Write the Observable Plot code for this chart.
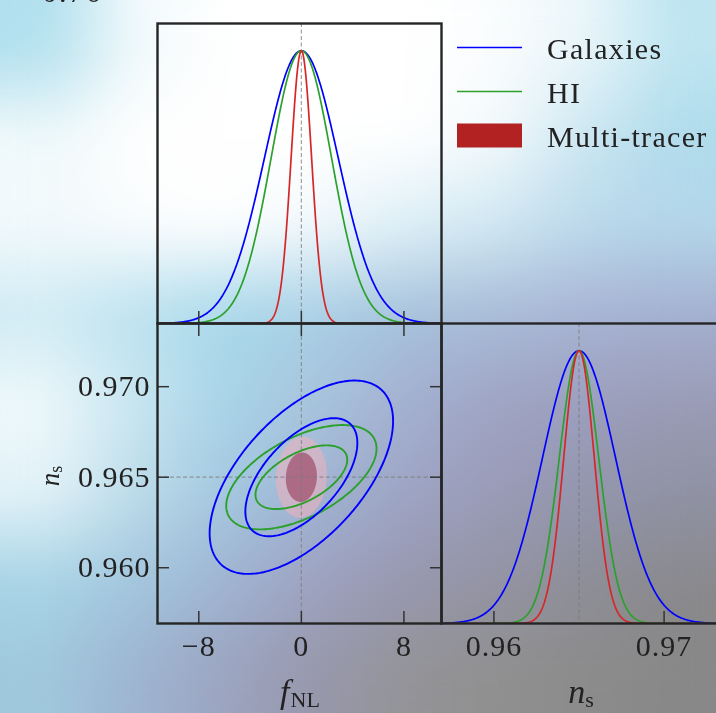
<!DOCTYPE html>
<html>
<head>
<meta charset="utf-8">
<script src="https://cdn.jsdelivr.net/npm/d3@7"></script>
<script src="https://cdn.jsdelivr.net/npm/@observablehq/plot@0.6"></script>
<style>
  html, body { margin: 0; padding: 0; background: #fff; }
  #wrap { position: relative; width: 716px; height: 713px; overflow: hidden; font-family: "Liberation Serif", serif; color: #222; }
  #wrap > * { position: absolute; left: 0; top: 0; }
</style>
</head>
<body>
<div id="wrap"></div>
<script>
// ---------------- data ----------------
const tracers = ["Galaxies", "HI", "Multi-tracer"];
const lineColors = ["#0000ff", "#2ca02c", "#d62728"];
const legendKinds = ["line", "line", "patch"];
const patchColor = "#b22222";
const fiducialFNL = 0;
const fiducialNs = 0.965;
const sigmaFNL = [2.88, 2.36, 0.80];          // 1-sigma marginal errors on f_NL
const sigmaNs = [2.15e-3, 1.16e-3, 0.90e-3];  // 1-sigma marginal errors on n_s
const corr = [0.58, 0.55, 0.05];              // f_NL – n_s correlation
const contourLevels = [2.30, 6.17];           // Δχ² for 68% / 95% regions
const fTicks = [-8, 0, 8];
const fTickLabels = ["−8", "0", "8"];
const nsTicksLeft = [0.960, 0.965, 0.970];
const nsTickLabelsLeft = ["0.960", "0.965", "0.970"];
const nsTicksBottom = [0.96, 0.97];
const nsTickLabelsBottom = ["0.96", "0.97"];
const fDomain = [-11.22, 10.93];
const nsDomain = [0.95692, 0.97349];

// ---------------- derived tables ----------------
const N = 400;
const margF = tracers.flatMap((t, i) => d3.range(N + 1).map(k => {
  const x = fDomain[0] + (fDomain[1] - fDomain[0]) * k / N;
  return {tracer: t, x, p: Math.exp(-0.5 * ((x - fiducialFNL) / sigmaFNL[i]) ** 2)};
}));
const margNs = tracers.flatMap((t, i) => d3.range(N + 1).map(k => {
  const x = nsDomain[0] + (nsDomain[1] - nsDomain[0]) * k / N;
  return {tracer: t, x, p: Math.exp(-0.5 * ((x - fiducialNs) / sigmaNs[i]) ** 2)};
}));
const contours = tracers.flatMap((t, i) => contourLevels.flatMap((lv, li) => {
  const k = Math.sqrt(lv);
  return d3.range(241).map(a => {
    const th = 2 * Math.PI * a / 240;
    return {
      tracer: t, level: li,
      x: fiducialFNL + k * sigmaFNL[i] * Math.cos(th),
      y: fiducialNs + k * sigmaNs[i] * (corr[i] * Math.cos(th) + Math.sqrt(1 - corr[i] ** 2) * Math.sin(th))
    };
  });
}));

// ---------------- layout ----------------
const W = 716, H = 713;
const frameL = 157, frameM = 441, frameR = 723, frameT = 23, frameMid = 323, frameB = 623;
const wrap = document.getElementById("wrap");

// soft background picture behind the transparent panels
const bgGrid = [
  ["#b2e0ee", "#f2fafc", "#ffffff", "#ffffff", "#ffffff", "#fbfdfe", "#eaf6fa", "#bfe5f1"],
  ["#f0f9fb", "#ffffff", "#ffffff", "#ffffff", "#ffffff", "#f4fafc", "#cce7f2", "#b0dcec"],
  ["#f2f9fc", "#fafdfe", "#ffffff", "#f2f9fc", "#ddf0f7", "#d0e8f3", "#bcdaec", "#b4d6ea"],
  ["#d0ebf4", "#bce2ef", "#a8d8ea", "#a8d0e6", "#a6c2dc", "#a8bcd8", "#a8b4d4", "#a4b0d0"],
  ["#eef8fb", "#c8e6f1", "#a8d4e8", "#a8c4dc", "#a4b0d0", "#a0a4c4", "#9c9fbe", "#9a9cb6"],
  ["#e2f2f8", "#bcdcea", "#a4c8e0", "#a0b4d4", "#9ea4c4", "#9a9cb8", "#9496ae", "#9092a4"],
  ["#a8d4e6", "#a2c6de", "#a0b4d2", "#9ea2c0", "#9898b0", "#9494a4", "#8e8e98", "#8a8a8e"],
  ["#a0c8dc", "#9eb4d0", "#9ca4c0", "#9898ac", "#949498", "#909090", "#8c8c8c", "#888888"]
];
const small = document.createElement("canvas");
small.width = bgGrid[0].length; small.height = bgGrid.length;
const sctx = small.getContext("2d");
bgGrid.forEach((row, j) => row.forEach((c, i) => { sctx.fillStyle = c; sctx.fillRect(i, j, 1, 1); }));
const tmp = document.createElement("canvas");
tmp.width = W; tmp.height = H;
const tctx = tmp.getContext("2d");
tctx.imageSmoothingEnabled = true;
tctx.drawImage(small, 0, 0, W, H);
const bg = document.createElement("canvas");
bg.width = W; bg.height = H;
const bctx = bg.getContext("2d");
bctx.drawImage(tmp, 0, 0);
bctx.filter = "blur(22px)";
bctx.drawImage(tmp, 0, 0);
bctx.filter = "none";
wrap.appendChild(bg);

const baseStyle = {background: "transparent", overflow: "visible", maxWidth: "none",
  fontFamily: "Liberation Serif, serif", fontSize: "30px", color: "#222", letterSpacing: "1px"};
const color = {domain: tracers, range: lineColors};
const dash = {stroke: "#7a7a7a", strokeOpacity: 0.7, strokeWidth: 1.2, strokeDasharray: "4,2.5"};
const tickStyle = {stroke: "#333", strokeWidth: 1.5, tickFormat: () => "", label: null};
const frameStyle = {stroke: "#252525", strokeWidth: 2.4};

// Top panel: f_NL marginal
const plotA = Plot.plot({
  width: W, height: H,
  marginLeft: frameL, marginRight: W - frameM, marginTop: frameT, marginBottom: H - frameMid,
  x: {domain: fDomain, label: null},
  y: {domain: [0, 1.1], axis: null},
  color,
  style: baseStyle,
  marks: [
    Plot.ruleX([fiducialFNL], dash),
    Plot.line(margF, {x: "x", y: "p", z: "tracer", stroke: "tracer", strokeWidth: 1.7, clip: true}),
    Plot.axisX(fTicks, {anchor: "bottom", tickSize: -12, ...tickStyle}),
    Plot.frame(frameStyle)
  ]
});

// Bottom-left panel: 2D contours
const plotB = Plot.plot({
  width: W, height: H,
  marginLeft: frameL, marginRight: W - frameM, marginTop: frameMid, marginBottom: H - frameB,
  x: {domain: fDomain, label: null},
  y: {domain: nsDomain, label: null},
  color,
  style: baseStyle,
  marks: [
    Plot.line(contours.filter(d => d.tracer === tracers[2] && d.level === 1),
      {x: "x", y: "y", fill: "#f2b0bc", fillOpacity: 0.55, stroke: "none"}),
    Plot.line(contours.filter(d => d.tracer === tracers[2] && d.level === 0),
      {x: "x", y: "y", fill: "#8c2244", fillOpacity: 0.5, stroke: "none"}),
    Plot.ruleX([fiducialFNL], dash),
    Plot.ruleY([fiducialNs], dash),
    Plot.line(contours.filter(d => d.tracer === tracers[1]),
      {x: "x", y: "y", z: "level", stroke: lineColors[1], strokeWidth: 1.9}),
    Plot.line(contours.filter(d => d.tracer === tracers[0]),
      {x: "x", y: "y", z: "level", stroke: lineColors[0], strokeWidth: 1.9}),
    Plot.axisX(fTicks, {anchor: "bottom", tickSize: -12, ...tickStyle}),
    Plot.axisX(fTicks, {anchor: "bottom", tickSize: 0, tickPadding: 11, label: null, fill: "#222",
      tickFormat: d => fTickLabels[fTicks.indexOf(d)]}),
    Plot.axisX(fTicks, {anchor: "top", tickSize: -12, ...tickStyle}),
    Plot.axisY(nsTicksLeft, {anchor: "left", tickSize: -12, ...tickStyle}),
    Plot.axisY(nsTicksLeft, {anchor: "left", tickSize: 0, tickPadding: 7, label: null, fill: "#222",
      tickFormat: d => nsTickLabelsLeft[nsTicksLeft.indexOf(d)]}),
    Plot.axisY(nsTicksLeft, {anchor: "right", tickSize: -12, ...tickStyle}),
    Plot.frame(frameStyle)
  ]
});

// Bottom-right panel: n_s marginal
const plotC = Plot.plot({
  width: frameR + 7, height: H,
  marginLeft: frameM, marginRight: 7, marginTop: frameMid, marginBottom: H - frameB,
  x: {domain: nsDomain, label: null},
  y: {domain: [0, 1.1], axis: null},
  color,
  style: baseStyle,
  marks: [
    Plot.ruleX([fiducialNs], dash),
    Plot.line(margNs, {x: "x", y: "p", z: "tracer", stroke: "tracer", strokeWidth: 1.7, clip: true}),
    Plot.axisX(nsTicksBottom, {anchor: "bottom", tickSize: -12, ...tickStyle}),
    Plot.axisX(nsTicksBottom, {anchor: "bottom", tickSize: 0, tickPadding: 11, label: null, fill: "#222",
      tickFormat: d => nsTickLabelsBottom[nsTicksBottom.indexOf(d)]}),
    Plot.frame(frameStyle)
  ]
});

wrap.appendChild(plotA);
wrap.appendChild(plotB);
wrap.appendChild(plotC);

// ---------------- axis titles, legend ----------------
const ov = d3.select(wrap).append("svg")
  .attr("width", W).attr("height", H)
  .style("font-family", "Liberation Serif, serif").style("fill", "#222");

// partially visible text from above the figure
ov.append("text").attr("x", 42).attr("y", 2).attr("font-size", 30).attr("letter-spacing", 2).text("0.76");

const fl = ov.append("text").attr("x", 300).attr("y", 703).attr("text-anchor", "middle").attr("font-size", 34);
fl.append("tspan").attr("font-style", "italic").text("f");
fl.append("tspan").attr("font-size", 22).attr("dy", 4).attr("dx", 1).text("NL");

const nb = ov.append("text").attr("x", 581).attr("y", 703).attr("text-anchor", "middle").attr("font-size", 34);
nb.append("tspan").attr("font-style", "italic").text("n");
nb.append("tspan").attr("font-size", 22).attr("dy", 4).text("s");

const nl = ov.append("text").attr("transform", "translate(59,476) rotate(-90)")
  .attr("text-anchor", "middle").attr("font-size", 27);
nl.append("tspan").attr("font-style", "italic").text("n");
nl.append("tspan").attr("font-size", 18).attr("dy", 3).text("s");

const lg = ov.append("g").attr("transform", "translate(457,47.5)");
tracers.forEach((t, i) => {
  const row = lg.append("g").attr("transform", `translate(0,${i * 44})`);
  if (legendKinds[i] === "line") {
    row.append("line").attr("x1", 0).attr("x2", 65).attr("y1", 0).attr("y2", 0)
      .attr("stroke", lineColors[i]).attr("stroke-width", 1.5);
  } else {
    row.append("rect").attr("x", 0).attr("y", -12).attr("width", 65).attr("height", 24)
      .attr("fill", patchColor);
  }
  row.append("text").attr("x", 90).attr("y", 11).attr("font-size", 30).attr("letter-spacing", 1.3).text(t);
});
</script>
</body>
</html>
